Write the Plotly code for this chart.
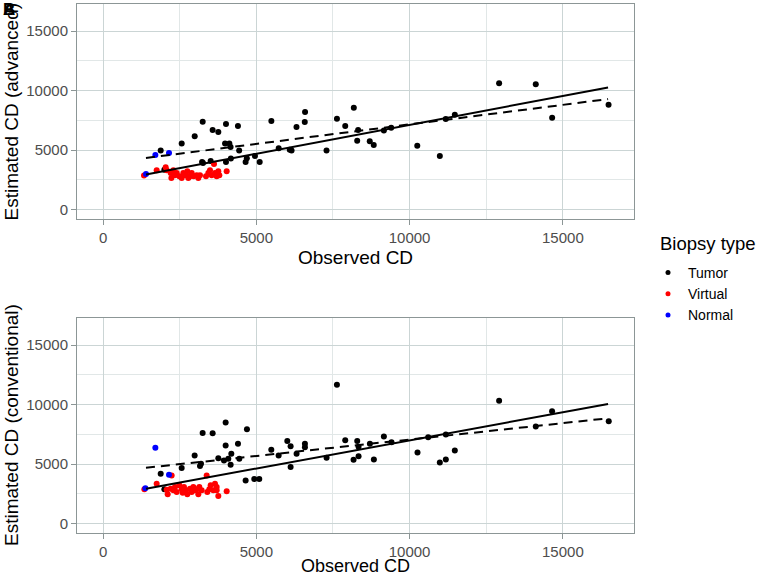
import plotly.graph_objects as go

# ---------------- data ----------------
# Panel A (advanced)
adv_tumor_x = [1880, 2565, 2990, 3250, 3575, 3760, 4010, 4400, 3980, 4120, 4160, 4440,
               3230, 3510, 3260, 4010, 4170, 4650, 4690, 4955, 5110, 5490, 5730, 6090,
               6150, 6310, 6590, 6580, 7290, 7630, 7900, 8180, 8320, 8290, 8700, 8830,
               9160, 9400, 10250, 10986, 11180, 11475, 12920, 14116, 14650, 16490, 2000]
adv_tumor_y = [4950, 5540, 6150, 7380, 6690, 6520, 7190, 7020, 5540, 5540, 5260, 4950,
               4000, 4085, 3900, 4000, 4280, 4000, 4300, 4500, 4000, 7440, 5150, 5030,
               4950, 6940, 8190, 7360, 4950, 7640, 7020, 8560, 6680, 5790, 5730, 5430,
               6650, 6880, 5370, 4500, 7600, 7970, 10620, 10540, 7720, 8810, 3350]
adv_virtual_x = [1336, 1749, 2043, 2075, 2206, 2228, 2293, 2347, 2402, 2488, 2564, 2619,
                 2684, 2749, 2782, 2836, 2891, 2956, 3054, 3108, 3162, 3358, 3434, 3488,
                 3543, 3619, 3651, 3706, 3760, 3793, 4032]
adv_virtual_y = [2851, 3297, 3549, 3297, 3075, 2655, 3297, 2879, 3075, 2795, 2655, 3075,
                 2879, 3215, 2655, 2795, 3075, 2795, 2879, 2655, 2879, 2795, 3075, 3297,
                 2879, 3830, 3075, 2795, 3215, 2879, 3215]
adv_normal_x = [1402, 1706, 2151]
adv_normal_y = [2980, 4585, 4752]
adv_fit_x = [1400, 16474]
adv_fit_all_y = [2935, 10263]
adv_fit_dash_y = [4334, 9284]

# Panel B (conventional)
con_tumor_x = [1880, 2000, 2564, 2988, 3249, 3162, 3195, 3575, 3760, 3999, 3999, 3945,
               4086, 4184, 4162, 4401, 4444, 4694, 4651, 4933, 5096, 5488, 5727, 6010,
               6118, 6118, 6313, 6585, 6585, 7292, 7629, 7900, 8172, 8291, 8335, 8335,
               8704, 8834, 9160, 9410, 10258, 10986, 11182, 11475, 11182, 12920, 14116,
               14648, 16496, 10606]
con_tumor_y = [4183, 2871, 4658, 5719, 7617, 4825, 5021, 7589, 5495, 8483, 6556, 5300,
               5440, 5858, 4937, 6696, 5440, 7924, 3625, 3736, 3736, 6193, 5719, 6947,
               6500, 4741, 5858, 6696, 6416, 5523, 11666, 7003, 5356, 6947, 6444, 5663,
               6696, 5384, 7310, 6836, 5970, 5132, 5384, 6137, 7478, 10326, 8148,
               9432, 8595, 7255]
con_virtual_x = [1347, 1749, 2238, 2075, 2108, 2206, 2293, 2347, 2402, 2488, 2564, 2597,
                 2640, 2706, 2749, 2836, 2891, 2945, 3000, 3054, 3108, 3141, 3217, 3380,
                 3401, 3466, 3510, 3597, 3651, 3706, 3760, 3706, 4032]
con_virtual_y = [2871, 3345, 4043, 2843, 2452, 2927, 2787, 3066, 2647, 3206, 2871, 2592,
                 3066, 2787, 2452, 2927, 2647, 3066, 2787, 2871, 2452, 3066, 2787, 4043,
                 2647, 2871, 3206, 2787, 3345, 3066, 2313, 2787, 2703]
con_normal_x = [1380, 1706, 2151]
con_normal_y = [2960, 6361, 4099]
con_fit_x = [1400, 16474]
con_fit_all_y = [2926, 10046]
con_fit_dash_y = [4685, 8846]

x_ticks = [0, 5000, 10000, 15000]
x_tick_labels = ["0", "5000", "10000", "15000"]
y_ticks = [0, 5000, 10000, 15000]
y_tick_labels = ["0", "5000", "10000", "15000"]
group_names = ["Tumor", "Virtual", "Normal"]
group_colors = ["#000000", "#FF0000", "#0000FF"]

# ---------------- figure ----------------
W, H = 760, 577
FONT = "Liberation Sans, Arial, sans-serif"
fig = go.Figure()

panels = [
    ("x", "y", adv_tumor_x, adv_tumor_y, adv_virtual_x, adv_virtual_y, adv_normal_x, adv_normal_y,
     adv_fit_x, adv_fit_all_y, adv_fit_dash_y),
    ("x2", "y2", con_tumor_x, con_tumor_y, con_virtual_x, con_virtual_y, con_normal_x, con_normal_y,
     con_fit_x, con_fit_all_y, con_fit_dash_y),
]

for xa, ya, tx, ty, vx, vy, nx, ny, fx, fa, fd in panels:
    for name, col, gx, gy in zip(group_names, group_colors, [tx, vx, nx], [ty, vy, ny]):
        fig.add_trace(go.Scatter(x=gx, y=gy, mode="markers", name=name, legendgroup=name,
                                 showlegend=False, xaxis=xa, yaxis=ya,
                                 marker=dict(color=col, size=6, line=dict(width=0))))
    fig.add_trace(go.Scatter(x=fx, y=fd, mode="lines", showlegend=False, xaxis=xa, yaxis=ya,
                             line=dict(color="black", width=2, dash="9px,6px")))
    fig.add_trace(go.Scatter(x=fx, y=fa, mode="lines", showlegend=False, xaxis=xa, yaxis=ya,
                             line=dict(color="black", width=2)))

# legend entries (small key dots like the reference)
for name, col in zip(group_names, group_colors):
    fig.add_trace(go.Scatter(x=[None], y=[None], mode="markers", name=name, legendgroup=name,
                             showlegend=True, marker=dict(color=col, size=5)))

xdom = [77 / W, 634 / W]
top_dom = [1 - 219 / H, 1 - 4 / H]
bot_dom = [1 - 533 / H, 1 - 318 / H]

grid_major = "#cbd5d5"
grid_minor = "#e1e7e7"
axis_common = dict(showline=True, linecolor="#8c9696", linewidth=1, mirror=True, automargin=False,
                   showgrid=True, gridcolor=grid_major, gridwidth=1.2, zeroline=False,
                   ticks="outside", ticklen=5, tickcolor="#8c9696",
                   tickfont=dict(family=FONT, size=15, color="#4d4d4d"),
                   minor=dict(showgrid=True, gridcolor=grid_minor, gridwidth=0.8, dtick=2500, ticks=""))

xr = [-850, 17320]
yr = [-800, 17280]

def title_ann(text, x, y, angle=0, size=19):
    return dict(text=text, x=x / W, y=1 - y / H, xref="paper", yref="paper",
                xanchor="center", yanchor="middle", showarrow=False, textangle=angle,
                font=dict(family=FONT, size=size, color="black"))

fig.update_layout(
    width=W, height=H, margin=dict(l=0, r=0, t=0, b=0, autoexpand=False),
    paper_bgcolor="white", plot_bgcolor="white",
    font=dict(family=FONT, color="black"),
    xaxis=dict(domain=xdom, anchor="y", range=xr, tickvals=x_ticks, ticktext=x_tick_labels, **axis_common),
    yaxis=dict(domain=top_dom, anchor="x", range=yr, tickvals=y_ticks, ticktext=y_tick_labels, **axis_common),
    xaxis2=dict(domain=xdom, anchor="y2", range=xr, tickvals=x_ticks, ticktext=x_tick_labels, **axis_common),
    yaxis2=dict(domain=bot_dom, anchor="x2", range=yr, tickvals=y_ticks, ticktext=y_tick_labels, **axis_common),
    legend=dict(x=648 / W, y=1 - 257 / H, xanchor="left", yanchor="top",
                font=dict(family=FONT, size=14, color="black"), itemsizing="trace",
                tracegroupgap=0, bgcolor="rgba(0,0,0,0)"),
    annotations=[
        title_ann("Observed CD", 355.5, 257),
        title_ann("Observed CD", 355.5, 566, size=18),
        title_ann("Estimated CD (advanced)", 11, 111.5, -90),
        title_ann("Estimated CD (conventional)", 11, 425, -90),
        dict(text="Biopsy type", x=658 / W, y=1 - 243 / H, xref="paper", yref="paper",
             xanchor="left", yanchor="middle", showarrow=False,
             font=dict(family=FONT, size=18.5, color="black")),
        dict(text="<b>A</b>", x=1 / W, y=1 + 2 / H, xref="paper", yref="paper",
             xanchor="left", yanchor="top", showarrow=False, font=dict(family=FONT, size=17, color="black")),
        dict(text="<b>B</b>", x=1 / W, y=1 + 2 / H, xref="paper", yref="paper",
             xanchor="left", yanchor="top", showarrow=False, font=dict(family=FONT, size=17, color="black")),
    ],
)

fig.write_html("out.html", config={"displayModeBar": False},
               post_script="document.body.style.margin='0';document.body.style.overflow='hidden';")
